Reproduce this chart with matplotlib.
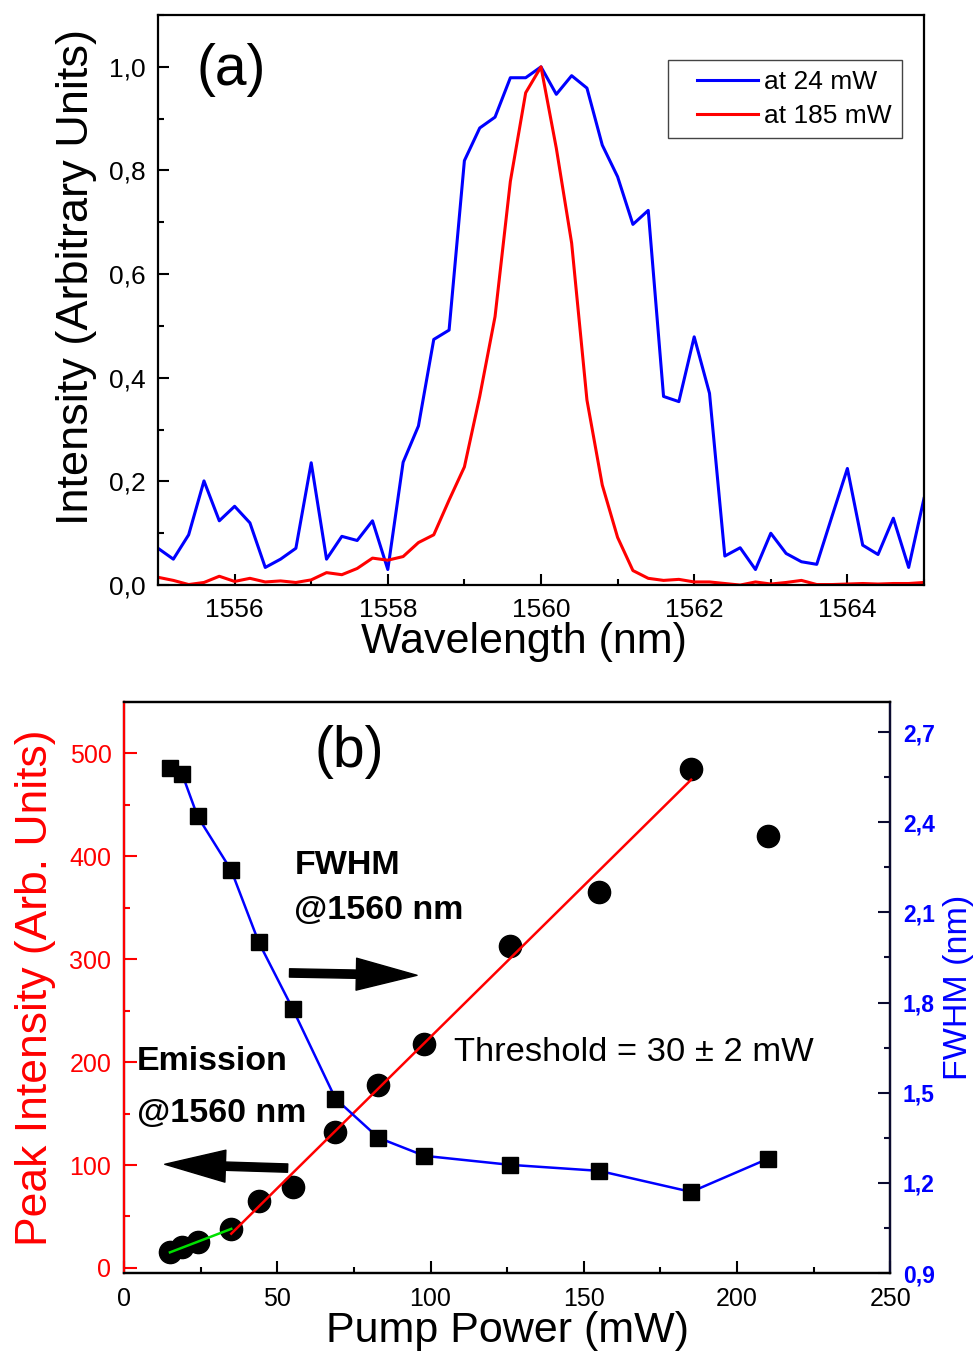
import numpy as np
import matplotlib
matplotlib.use('Agg')
from matplotlib import pyplot as plt
from matplotlib.ticker import MultipleLocator, FuncFormatter
from matplotlib.legend_handler import HandlerLine2D

plt.rcParams['font.family'] = ['Liberation Sans', 'DejaVu Sans']

# ---- panel (a) data: spectra, 0.2 nm step
wavelength = np.round(np.arange(1555.0, 1565.01, 0.2), 1)
spec_24mw = [0.071, 0.050, 0.097, 0.201, 0.124, 0.152, 0.120, 0.034, 0.050, 0.071,
             0.236, 0.050, 0.094, 0.086, 0.124, 0.030, 0.237, 0.307, 0.474, 0.492,
             0.819, 0.882, 0.903, 0.979, 0.979, 1.000, 0.947, 0.983, 0.959, 0.849,
             0.788, 0.696, 0.723, 0.364, 0.354, 0.479, 0.370, 0.056, 0.072, 0.030,
             0.100, 0.061, 0.045, 0.040, 0.133, 0.225, 0.077, 0.059, 0.129, 0.034,
             0.167]
spec_185mw = [0.015, 0.009, 0.001, 0.005, 0.017, 0.007, 0.013, 0.006, 0.008, 0.005,
              0.010, 0.024, 0.020, 0.032, 0.052, 0.048, 0.055, 0.082, 0.097, 0.164,
              0.228, 0.364, 0.518, 0.779, 0.950, 1.000, 0.843, 0.660, 0.357, 0.193,
              0.092, 0.028, 0.013, 0.009, 0.011, 0.006, 0.006, 0.003, 0.000, 0.006,
              0.002, 0.005, 0.009, 0.001, 0.001, 0.002, 0.003, 0.002, 0.003, 0.003,
              0.005]

# ---- panel (b) data
pump = [15, 19, 24, 35, 44, 55, 69, 83, 98, 126, 155, 185, 210]
peak = [15, 20, 25, 38, 65, 79, 132, 178, 218, 313, 365, 485, 420]
fwhm = [2.58, 2.56, 2.42, 2.24, 2.00, 1.78, 1.48, 1.35, 1.29, 1.26, 1.24, 1.17, 1.28]


def comma(v, pos, nd=1):
    return ('%.*f' % (nd, v)).replace('.', ',')


class OffsetLine(HandlerLine2D):
    # legend line drawn only on the right part of the handle box (Origin look)
    def get_xdata(self, legend, xdescent, ydescent, width, height, fontsize):
        x0 = -xdescent + 0.23 * width
        x1 = -xdescent + width
        return np.array([x0, x1]), np.array([x0, x1])


fig = plt.figure(figsize=(9.76, 13.54), dpi=100)

# ================= (a)
ax = fig.add_axes([0.1619, 0.5679, 0.7848, 0.421])
ax.plot(wavelength, spec_24mw, color='blue', lw=2.2, label='at 24 mW')
ax.plot(wavelength, spec_185mw, color='red', lw=2.2, label='at 185 mW')
ax.set_xlim(1555, 1565)
ax.set_ylim(0, 1.1)
ax.xaxis.set_major_locator(MultipleLocator(2))
ax.xaxis.set_minor_locator(MultipleLocator(1))
ax.yaxis.set_major_locator(MultipleLocator(0.2))
ax.yaxis.set_minor_locator(MultipleLocator(0.1))
ax.yaxis.set_major_formatter(FuncFormatter(comma))
ax.tick_params(which='both', direction='in', top=False, right=False, width=1.5,
               labelsize=19)
ax.tick_params(axis='x', pad=9)
ax.tick_params(axis='y', pad=9)
ax.tick_params(which='major', length=8)
ax.tick_params(which='minor', length=4)
for s in ax.spines.values():
    s.set_linewidth(1.6)
ax.set_xlabel('Wavelength (nm)', fontsize=31, labelpad=0)
ax.xaxis.set_label_coords(0.478, -0.065)
ax.set_ylabel('Intensity (Arbitrary Units)', fontsize=32.5)
ax.yaxis.set_label_coords(-0.08, 0.54)
ax.text(1555.95, 0.994, '(a)', fontsize=41, ha='center', va='center')
leg = ax.legend(loc='upper right', bbox_to_anchor=(0.971, 0.921), fontsize=19,
                frameon=True, fancybox=False, edgecolor='#444444', framealpha=1,
                borderaxespad=0, handlelength=3.0, handletextpad=0.25,
                borderpad=0.38, labelspacing=0.38,
                handler_map={plt.Line2D: OffsetLine()})
leg.get_frame().set_linewidth(1.0)

# ================= (b)
bx = fig.add_axes([0.1270, 0.0598, 0.7853, 0.4217])
bx2 = bx.twinx()

# linear fits: below threshold (green) and above threshold (red)
p_lo = np.polyfit(pump[:4], peak[:4], 1)
p_hi = np.polyfit(pump[3:12], peak[3:12], 1)
xl = np.array([pump[0], pump[3]])
xh = np.array([pump[3], pump[11]])

bx.plot(pump, peak, 'o', color='black', ms=16, zorder=2)
bx.plot(xh, np.polyval(p_hi, xh), color='red', lw=1.8, zorder=3)
bx.plot(xl, np.polyval(p_lo, xl), color='#00e000', lw=1.8, zorder=3)

bx2.plot(pump, fwhm, '-', color='blue', lw=1.8, marker='s', ms=11.5,
         mfc='black', mec='black')

bx.set_xlim(0, 250)
bx.set_ylim(-5, 550)
bx2.set_ylim(0.9, 2.8)
bx.xaxis.set_major_locator(MultipleLocator(50))
bx.xaxis.set_minor_locator(MultipleLocator(25))
bx.yaxis.set_major_locator(MultipleLocator(100))
bx.yaxis.set_minor_locator(MultipleLocator(50))
bx2.yaxis.set_major_locator(MultipleLocator(0.3))
bx2.yaxis.set_minor_locator(MultipleLocator(0.15))
bx2.yaxis.set_major_formatter(FuncFormatter(comma))

bx.tick_params(which='both', direction='in', top=False, right=False, width=1.5,
               labelsize=18)
bx.tick_params(which='major', length=9)
bx.tick_params(which='minor', length=4.5)
bx.tick_params(axis='x', pad=10)
bx.tick_params(axis='y', which='both', colors='red', pad=9)
bx2.tick_params(which='both', direction='in', width=1.5, color='#0a0a30',
                labelcolor='blue', labelsize=16.5, pad=9)
bx2.tick_params(which='major', length=9)
bx2.tick_params(which='minor', length=4.5)
for lab in bx2.get_yticklabels():
    lab.set_fontweight('bold')

for a in (bx, bx2):
    for s in a.spines.values():
        s.set_linewidth(1.6)
bx2.spines['left'].set_color('red')
bx2.spines['right'].set_color('#0a0a30')

bx.set_xlabel('Pump Power (mW)', fontsize=31, labelpad=0)
bx.set_ylabel('Peak Intensity (Arb. Units)', fontsize=32, color='red', labelpad=10)
bx2.set_ylabel('FWHM (nm)', fontsize=24.5, color='blue', labelpad=6)

bx.text(73.5, 501, '(b)', fontsize=41, ha='center', va='center')
bx.text(55.6, 391, 'FWHM', fontsize=24.5, fontweight='bold', ha='left', va='center')
bx.text(55.6, 347, '@1560 nm', fontsize=24.5, fontweight='bold', ha='left', va='center')
bx.text(4.2, 201, 'Emission', fontsize=24.5, fontweight='bold', ha='left', va='center')
bx.text(4.2, 150, '@1560 nm', fontsize=24.5, fontweight='bold', ha='left', va='center')
bx.text(107.7, 209, 'Threshold = 30 \u00b1 2 mW', fontsize=24.8, ha='left', va='center')

arrow_style = 'simple,head_length=1.9,head_width=1.0,tail_width=0.26'
bx.annotate('', xy=(95.6, 284.4), xytext=(54.0, 286.7),
            arrowprops=dict(arrowstyle=arrow_style, mutation_scale=23,
                            color='black', shrinkA=0, shrinkB=0))
bx.annotate('', xy=(13.3, 100.7), xytext=(53.4, 97.0),
            arrowprops=dict(arrowstyle=arrow_style, mutation_scale=23,
                            color='black', shrinkA=0, shrinkB=0))

fig.savefig('out.png', dpi=100)
